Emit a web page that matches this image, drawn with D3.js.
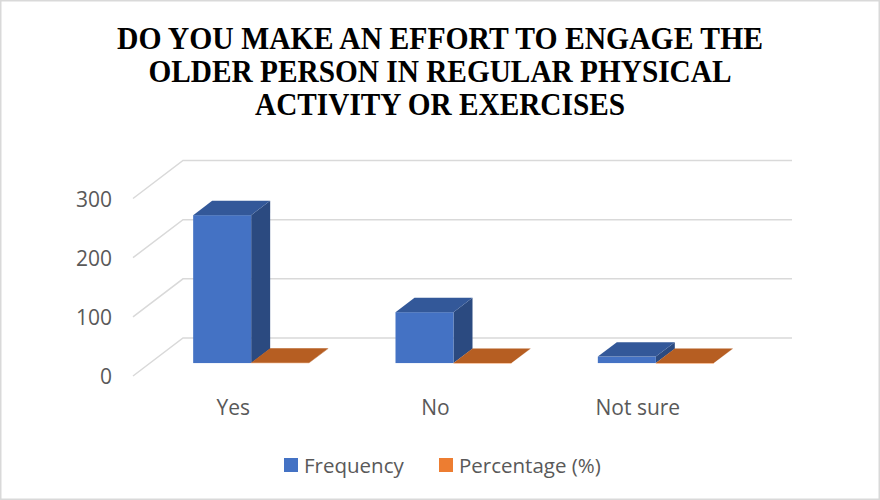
<!DOCTYPE html>
<html>
<head>
<meta charset="utf-8">
<script src="https://cdn.jsdelivr.net/npm/d3@7"></script>
<style>
  html, body { margin: 0; padding: 0; background: #fff; }
  svg { display: block; }
</style>
</head>
<body>
<svg id="chart" width="880" height="500"></svg>
<script>
// ---- data ----
const titleLines = ["DO YOU MAKE AN EFFORT TO ENGAGE THE", "OLDER PERSON IN REGULAR PHYSICAL", "ACTIVITY OR EXERCISES"];
const categories = ["Yes", "No", "Not sure"];
const seriesNames = ["Frequency", "Percentage (%)"];
const frequency = [250, 86, 11];
const percentage = [0.72, 0.25, 0.03];
const yTicks = [0, 100, 200, 300];

// ---- layout ----
const W = 880, H = 500;
const svg = d3.select("#chart");

svg.append("rect").attr("x", 0.75).attr("y", 0.75).attr("width", W - 1.5).attr("height", H - 1.5)
  .attr("fill", "#fff").attr("stroke", "#D9D9D9").attr("stroke-width", 1.5);

// title
const titleW = [646, 583, 370];
const titleY = [49, 82, 115];
svg.append("g").selectAll("text").data(titleLines).join("text")
  .attr("x", 440).attr("y", (d, i) => titleY[i])
  .attr("text-anchor", "middle")
  .attr("font-family", "'Liberation Serif', 'Times New Roman', serif")
  .attr("font-weight", "bold").attr("font-size", 31)
  .attr("textLength", (d, i) => titleW[i]).attr("lengthAdjust", "spacingAndGlyphs")
  .attr("fill", "#000").text(d => d);

// 3D geometry
const frontX0 = 133, frontX1 = 740, floorY = 376;
const depth = { dx: 50, dy: -38 };
const t0 = 0.34, t1 = 0.72;   // bar depth span as fraction of floor depth

const x = d3.scaleBand().domain(categories).range([frontX0, frontX1]);
const h = d3.scaleLinear().domain([0, 300]).range([0, 177.5]);
const barW = 58;

const gGrid = svg.append("g");
yTicks.forEach(v => {
  const yf = floorY - h(v);
  const yb = yf + depth.dy;
  gGrid.append("path")
    .attr("d", `M${frontX0},${yf}L${frontX0 + depth.dx},${yb}L${frontX1 + depth.dx + 2},${yb}`)
    .attr("fill", "none").attr("stroke", "#D9D9D9").attr("stroke-width", 1.5);
});

// y labels
svg.append("g").selectAll("text").data(yTicks).join("text")
  .attr("x", 112).attr("y", d => floorY - h(d))
  .attr("text-anchor", "end").attr("dominant-baseline", "central")
  .attr("font-family", "'Open Sans', sans-serif").attr("font-size", 21)
  .attr("fill", "#595959").text(d => d);

// bars
const colors = [
  { front: "#4472C4", side: "#2B4A80", top: "#335899" },
  { front: "#ED7D31", side: "#A9541E", top: "#B65E22" }
];
const series = [frequency, percentage];
const gBars = svg.append("g");
categories.forEach((c, ci) => {
  const groupStart = x(c) + (x.bandwidth() - 2 * barW) / 2;
  series.forEach((vals, si) => {
    const col = colors[si];
    const fx = groupStart + si * barW + depth.dx * t0;
    const fy = floorY + depth.dy * t0;
    const ddx = depth.dx * (t1 - t0), ddy = depth.dy * (t1 - t0);
    const bh = h(vals[ci]);
    const top = fy - bh;
    // side
    gBars.append("path")
      .attr("d", `M${fx + barW},${top}L${fx + barW + ddx},${top + ddy}L${fx + barW + ddx},${fy + ddy}L${fx + barW},${fy}Z`)
      .attr("fill", col.side);
    // front
    gBars.append("rect").attr("x", fx).attr("y", top).attr("width", barW).attr("height", Math.max(bh, 0.5))
      .attr("fill", col.front);
    // top
    gBars.append("path")
      .attr("d", `M${fx},${top}L${fx + ddx},${top + ddy}L${fx + barW + ddx},${top + ddy}L${fx + barW},${top}Z`)
      .attr("fill", col.top);
  });
});

// category labels
svg.append("g").selectAll("text").data(categories).join("text")
  .attr("x", d => x(d) + x.bandwidth() / 2 - 1).attr("y", 407)
  .attr("text-anchor", "middle").attr("dominant-baseline", "central")
  .attr("font-family", "'Open Sans', sans-serif").attr("font-size", 21)
  .attr("fill", "#595959").text(d => d);

// legend
const legendX = [284, 439];
const legendColors = ["#4472C4", "#ED7D31"];
const lg = svg.append("g");
seriesNames.forEach((n, i) => {
  lg.append("rect").attr("x", legendX[i]).attr("y", 458).attr("width", 14).attr("height", 14)
    .attr("fill", legendColors[i]);
  lg.append("text").attr("x", legendX[i] + 20).attr("y", 465)
    .attr("dominant-baseline", "central")
    .attr("font-family", "'Open Sans', sans-serif").attr("font-size", 20.5)
    .attr("fill", "#595959").text(n);
});
</script>
</body>
</html>
